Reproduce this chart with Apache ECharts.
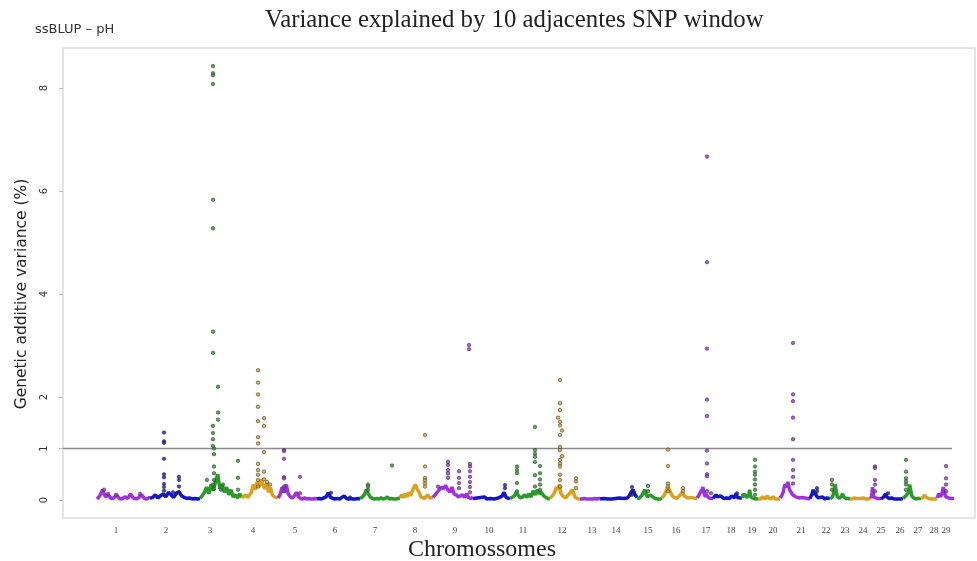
<!DOCTYPE html>
<html>
<head>
<meta charset="utf-8">
<script src="https://cdn.jsdelivr.net/npm/echarts@6/dist/echarts.min.js"></script>
<style>html,body{margin:0;padding:0;background:#fff}#c{width:977px;height:561px}</style>
</head>
<body>
<div id="c"></div>
<script>
// Chromosome boundaries (cumulative genome position, arbitrary units)
const chrBounds = [34,87,137,179,215,254,297,337,370,410,447,487,517,537,574,599,634,650,679,695,717,747,767,787,808,818,840,858,874,891];
// Tick label positions and labels
const tickPos = [53,103,147,190,232,272,312,352,392,426,460,499,529,553,585,613,643,668,689,710,738,763,782,800,818,837,855,871,883];
const tickLabels = ['1','2','3','4','5','6','7','8','9','10','11','12','13','14','15','16','17','18','19','20','21','22','23','24','25','26','27','28','29'];
const yTicks = [0,1,2,4,6,8];
const threshold = 1;
const palette = ['#a030e0','#1414c8','#2a9a2a','#d9a21e'];

// Background (baseline) variance profile, samples along each chromosome
const baseline = [
 [0.02,0.08,0.2,0.06,0.1,0.03,0.04,0.1,0.03,0.02,0.06,0.03,0.12,0.04,0.02,0.05,0.1,0.03,0.02,0.06],
 [0.03,0.05,0.1,0.04,0.08,0.12,0.06,0.15,0.1,0.05,0.13,0.16,0.08,0.05,0.03,0.04,0.02,0.03,0.02,0.03],
 [0.03,0.08,0.15,0.25,0.12,0.3,0.18,0.35,0.5,0.22,0.3,0.15,0.25,0.1,0.2,0.06,0.1,0.04,0.12,0.05],
 [0.04,0.06,0.1,0.05,0.08,0.15,0.3,0.2,0.35,0.25,0.4,0.3,0.22,0.32,0.15,0.25,0.1,0.06,0.03,0.04],
 [0.04,0.1,0.25,0.15,0.3,0.12,0.06,0.04,0.08,0.15,0.06,0.03,0.02,0.04,0.02,0.03,0.02,0.02,0.03,0.02],
 [0.02,0.03,0.02,0.04,0.06,0.14,0.05,0.03,0.02,0.03,0.02,0.05,0.08,0.03,0.02,0.03,0.02,0.02,0.03,0.02],
 [0.03,0.05,0.1,0.2,0.12,0.05,0.03,0.02,0.03,0.02,0.04,0.02,0.03,0.06,0.02,0.03,0.02,0.02,0.03,0.04],
 [0.04,0.1,0.05,0.12,0.06,0.15,0.08,0.1,0.25,0.3,0.2,0.15,0.06,0.04,0.03,0.05,0.1,0.04,0.03,0.05],
 [0.05,0.1,0.15,0.2,0.25,0.22,0.28,0.2,0.15,0.25,0.12,0.1,0.06,0.08,0.1,0.05,0.12,0.04,0.03,0.05],
 [0.03,0.06,0.04,0.02,0.05,0.03,0.06,0.02,0.04,0.03,0.05,0.02,0.03,0.04,0.06,0.08,0.15,0.05,0.03,0.02],
 [0.03,0.05,0.08,0.15,0.08,0.04,0.06,0.1,0.05,0.12,0.06,0.18,0.1,0.2,0.12,0.15,0.08,0.05,0.03,0.02],
 [0.03,0.05,0.1,0.15,0.25,0.2,0.3,0.12,0.08,0.05,0.04,0.08,0.1,0.15,0.2,0.12,0.05,0.03,0.02,0.02],
 [0.02,0.03,0.02,0.02,0.03,0.02,0.02,0.03,0.02,0.02,0.02,0.03,0.02,0.02,0.03,0.02,0.02,0.02,0.03,0.02],
 [0.02,0.02,0.03,0.02,0.02,0.03,0.02,0.02,0.03,0.02,0.04,0.02,0.03,0.05,0.04,0.08,0.15,0.2,0.1,0.05],
 [0.03,0.05,0.04,0.06,0.1,0.15,0.2,0.1,0.06,0.05,0.1,0.12,0.06,0.04,0.03,0.05,0.02,0.03,0.02,0.03],
 [0.04,0.08,0.15,0.25,0.2,0.12,0.06,0.05,0.03,0.06,0.1,0.15,0.08,0.05,0.04,0.03,0.05,0.02,0.03,0.03],
 [0.04,0.06,0.08,0.1,0.15,0.12,0.2,0.25,0.15,0.1,0.06,0.12,0.08,0.05,0.04,0.03,0.05,0.03,0.02,0.03],
 [0.03,0.05,0.1,0.06,0.04,0.08,0.05,0.03,0.06,0.04,0.05,0.03,0.08,0.06,0.04,0.12,0.05,0.03,0.04,0.03],
 [0.04,0.1,0.12,0.08,0.1,0.05,0.04,0.06,0.08,0.2,0.1,0.05,0.03,0.02,0.03,0.02,0.03,0.02,0.02,0.03],
 [0.02,0.03,0.02,0.04,0.06,0.03,0.02,0.05,0.08,0.04,0.03,0.02,0.03,0.06,0.03,0.02,0.03,0.02,0.03,0.02],
 [0.04,0.08,0.15,0.3,0.25,0.35,0.2,0.15,0.1,0.08,0.06,0.05,0.04,0.06,0.05,0.03,0.04,0.03,0.02,0.03],
 [0.03,0.06,0.12,0.2,0.1,0.15,0.08,0.05,0.04,0.03,0.05,0.04,0.06,0.03,0.02,0.03,0.04,0.02,0.03,0.02],
 [0.02,0.03,0.05,0.1,0.2,0.3,0.15,0.06,0.04,0.03,0.05,0.08,0.12,0.06,0.04,0.03,0.02,0.03,0.02,0.02],
 [0.02,0.03,0.02,0.03,0.04,0.02,0.03,0.05,0.03,0.02,0.03,0.02,0.04,0.03,0.02,0.03,0.02,0.02,0.03,0.02],
 [0.03,0.08,0.15,0.25,0.12,0.06,0.04,0.05,0.03,0.04,0.03,0.05,0.04,0.03,0.02,0.03,0.02,0.03,0.04,0.03],
 [0.02,0.03,0.05,0.08,0.12,0.06,0.04,0.03,0.05,0.04,0.03,0.02,0.03,0.02,0.03,0.02,0.03,0.02,0.02,0.03],
 [0.03,0.04,0.05,0.08,0.1,0.06,0.15,0.3,0.2,0.1,0.06,0.04,0.03,0.02,0.03,0.02,0.03,0.02,0.02,0.03],
 [0.02,0.03,0.04,0.06,0.1,0.08,0.05,0.03,0.04,0.03,0.02,0.03,0.02,0.04,0.03,0.02,0.03,0.02,0.02,0.03],
 [0.04,0.08,0.12,0.1,0.06,0.08,0.15,0.25,0.18,0.1,0.06,0.04,0.03,0.04,0.03,0.02,0.03,0.02,0.02,0.03]
];

// SNP windows above background: [position, variance %] per chromosome
const peaks = [
 [[41,0.2],[45,0.12],[53,0.1],[77,0.12]],
 [[101,1.31],[101,1.14],[101,1.11],[101,0.8],[101,0.5],[101,0.44],[101,0.31],[101,0.25],[101,0.18],[101,0.1],[116,0.45],[116,0.39],[116,0.26],[116,0.15],[110,0.15],[113,0.12]],
 [[150,8.43],[150,8.29],[150,8.25],[150,8.08],[150,5.83],[150,5.28],[150,3.27],[150,2.86],[155,2.2],[155,1.7],[155,1.56],[150,1.44],[150,1.3],[150,1.18],[150,1.05],[151,1.0],[151,0.89],[151,0.65],[151,0.52],[151,0.39],[144,0.39],[150,0.3],[160,0.3],[151,0.22],[158,0.2],[175,0.76],[175,0.43],[175,0.2]],
 [[195,2.52],[195,2.28],[195,2.05],[195,1.81],[195,1.53],[195,1.22],[195,1.1],[195,0.7],[195,0.58],[195,0.49],[195,0.39],[195,0.26],[201,1.59],[201,1.44],[201,0.93],[201,0.55],[201,0.4],[204,0.35],[207,0.3]],
 [[221,0.97],[221,0.95],[221,0.8],[221,0.44],[221,0.42],[221,0.26],[221,0.17],[237,0.45],[237,0.13]],
 [[268,0.14],[287,0.05]],
 [[305,0.3],[305,0.26],[305,0.2],[329,0.67]],
 [[362,1.26],[362,0.65],[362,0.43],[362,0.38],[362,0.32],[362,0.26]],
 [[375,0.26],[385,0.74],[385,0.68],[385,0.58],[385,0.52],[385,0.43],[396,0.56],[396,0.43],[396,0.33],[396,0.23],[407,0.7],[407,0.65],[407,0.56],[407,0.45],[407,0.35],[407,0.25],[407,0.15],[406,3.01],[406,2.93]],
 [[442,0.29],[442,0.23]],
 [[454,0.65],[454,0.58],[454,0.52],[454,0.33],[454,0.17],[472,1.42],[472,0.97],[472,0.9],[472,0.84],[472,0.74],[472,0.48],[472,0.26],[477,0.66],[477,0.52],[477,0.4],[477,0.3],[477,0.2]],
 [[497,2.33],[497,1.88],[497,1.75],[497,1.52],[497,1.45],[497,1.26],[497,1.03],[497,0.97],[497,0.78],[497,0.71],[497,0.65],[497,0.49],[497,0.39],[497,0.26],[495,1.6],[499,1.35],[499,0.85],[513,0.42],[513,0.36],[513,0.23]],
 [],
 [[569,0.25],[569,0.17],[569,0.1]],
 [[585,0.27],[585,0.17]],
 [[605,0.98],[605,0.66],[605,0.32],[605,0.26],[605,0.17],[620,0.23],[620,0.17]],
 [[644,6.67],[644,4.62],[644,2.94],[644,1.95],[644,1.63],[644,0.96],[644,0.71],[644,0.5],[644,0.46],[644,0.17],[648,0.13]],
 [[674,0.13]],
 [[692,0.78],[692,0.65],[692,0.55],[692,0.49],[692,0.4],[692,0.3],[692,0.2],[692,0.1]],
 [],
 [[730,3.05],[730,2.05],[730,1.92],[730,1.6],[730,1.18],[730,0.78],[730,0.58],[730,0.45],[730,0.32]],
 [[754,0.23],[754,0.17]],
 [[769,0.39],[769,0.3],[769,0.2]],
 [],
 [[812,0.65],[812,0.62],[812,0.39],[812,0.3],[812,0.17]],
 [[825,0.13]],
 [[843,0.78],[843,0.55],[843,0.42],[843,0.36],[843,0.3],[843,0.2]],
 [],
 [[883,0.66],[883,0.42],[883,0.3],[883,0.17]]
];
const thresholdSpan = [0, 889];

const series = [];
baseline.forEach((vals, i) => {
  const s = chrBounds[i], e = chrBounds[i + 1];
  const col = palette[i % 4];
  series.push({
    type: 'line', symbol: 'none', silent: true, z: 3,
    lineStyle: { color: col, width: 3.5 },
    data: vals.map((v, k) => [s + (e - s) * k / (vals.length - 1), v])
  });
  series.push({
    type: 'scatter', symbolSize: 3.5, z: 4,
    itemStyle: { color: col, borderColor: '#333', borderWidth: 0.7 },
    data: peaks[i]
  });
});
series.push({
  type: 'line', symbol: 'none', silent: true, z: 2,
  lineStyle: { color: '#8a8a8a', width: 1.5 },
  data: thresholdSpan.map(x => [x, threshold])
});

const chart = echarts.init(document.getElementById('c'), null, { renderer: 'canvas' });
chart.setOption({
  animation: false,
  backgroundColor: '#fff',
  grid: { left: 63, right: 2, top: 48, bottom: 43, show: true, borderColor: '#dcdcdc', borderWidth: 1.5, backgroundColor: 'transparent' },
  xAxis: {
    type: 'value', min: 0, max: 912,
    axisLine: { show: false }, axisTick: { show: false }, splitLine: { show: false },
    axisLabel: {
      customValues: tickPos, fontSize: 9, color: '#444', margin: 8, fontFamily: 'Liberation Serif',
      formatter: v => tickLabels[tickPos.indexOf(v)]
    }
  },
  yAxis: {
    type: 'value', min: -0.35, max: 8.78,
    axisLine: { show: false }, splitLine: { show: false },
    axisTick: { show: true, customValues: yTicks, length: 4, lineStyle: { color: '#bbb' } },
    axisLabel: { customValues: yTicks, rotate: 90, fontSize: 10, color: '#333', margin: 14, fontFamily: 'DejaVu Sans' }
  },
  graphic: [
    { type: 'text', left: 265, top: 8, style: { text: 'Variance explained by 10 adjacentes SNP window', font: '24.8px "Liberation Serif"', fill: '#222' } },
    { type: 'text', left: 35, top: 23, style: { text: 'ssBLUP – pH', font: '13px "DejaVu Sans"', fill: '#333' } },
    { type: 'text', left: 408, top: 538, style: { text: 'Chromossomes', font: '24px "Liberation Serif"', fill: '#222' } },
    { type: 'text', x: 22, y: 294, rotation: Math.PI / 2, style: { text: 'Genetic additive variance (%)', font: '15.5px "DejaVu Sans"', fill: '#222', align: 'center', verticalAlign: 'middle' } }
  ],
  series: series
});
</script>
</body>
</html>
